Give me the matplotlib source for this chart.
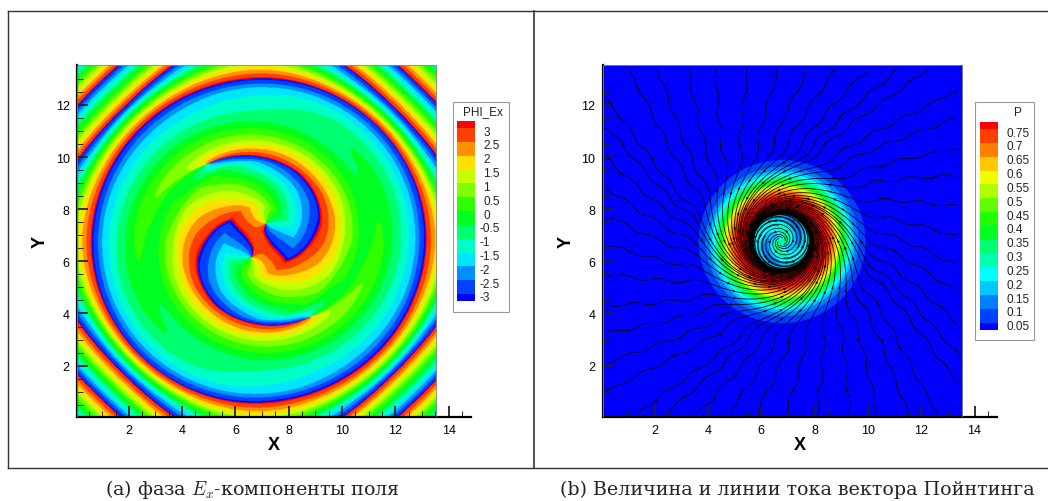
import numpy as np
import matplotlib
matplotlib.use('Agg')
import matplotlib.pyplot as plt
from matplotlib.colors import ListedColormap, BoundaryNorm
from matplotlib.patches import Rectangle

plt.rcParams['font.family'] = ['Liberation Sans', 'DejaVu Sans']
plt.rcParams['mathtext.fontset'] = 'cm'

# legend levels and colours
phi_levels = [-3, -2.5, -2, -1.5, -1, -0.5, 0, 0.5, 1, 1.5, 2, 2.5, 3]
phi_colors = ['#0000ff', '#0040ff', '#0090ff', '#00e5ff', '#00ffc8', '#00ff70', '#00ff20',
              '#30ff00', '#80ff00', '#c8ff00', '#ffe000', '#ff9000', '#ff4000', '#ff0000']
p_levels = [0.05, 0.1, 0.15, 0.2, 0.25, 0.3, 0.35, 0.4, 0.45, 0.5, 0.55, 0.6, 0.65, 0.7, 0.75]
p_colors = ['#0000ff', '#0040ff', '#0080ff', '#00c8ff', '#00ffff', '#00ffb0', '#00ff70', '#00ff20',
            '#20ff00', '#60ff00', '#b0ff00', '#f0ff00', '#ffc800', '#ff8000', '#ff4000', '#ff0000']
ticks = [2, 4, 6, 8, 10, 12, 14]
yticks = [2, 4, 6, 8, 10, 12]

# radial profiles read along lines through the centre
h_r = [0, 2.4, 2.6, 2.85, 3.05, 3.5, 3.85, 4.6, 5.1, 5.5, 5.85, 6.0, 6.15, 6.25, 6.67, 7.85, 9.25, 11.0]
h_phase = [3.1, 3.14, 2.9, 2.3, 1.8, 1.1, 0.5, -0.3, -0.8, -1.3, -1.9, -2.4, -2.9, -3.14, -4.55, -9.42, -15.7, -23.0]
g_r = [0, 0.7, 1.3, 1.9, 2.4, 3.0, 3.2, 3.35, 3.5, 4.0, 5.0, 6.0, 7.0, 10.0]
g_deg = [200, 230, 248, 192, 150, 84, 40, 15, -4, -110, -340, -500, -600, -800]
a_r = [0, 2.5, 3.0, 3.5, 4.0, 5.0, 5.8, 7.0, 10.0]
a_amp = [3.0, 3.0, 2.2, 1.0, 0.5, 0.3, 0.2, 0.1, 0.05]
b_r = [0, 1.8, 3.0, 10.0]
b_amp = [0.0, 0.0, 1.0, 1.0]

p_r = [0, 0.25, 0.6, 1.05, 1.2, 1.4, 1.71, 1.9, 2.09, 2.25, 2.52, 2.69, 2.9, 3.13, 3.3, 10.0]
p_val = [0.3, 0.25, 0.19, 0.19, 0.7, 0.8, 0.76, 0.68, 0.58, 0.42, 0.25, 0.16, 0.09, 0.05, 0.02, 0.02]
# angle of the flow against the inward radius, degrees
flow_r = [0, 0.5, 0.9, 1.1, 1.25, 1.6, 2.0, 2.5, 3.0, 3.3, 3.9, 4.5, 5.1, 5.7, 6.3, 6.9, 7.5, 8.1, 8.7, 9.5, 10.0]
flow_deg = [110, 105, 100, 90, 82, 74, 68, 62, 55, 48, -5, 48, -5, 45, -5, 40, -5, 30, 0, 15, 10]


def smooth(v, n=15):
    w = np.ones(n) / n
    return np.convolve(np.pad(v, n // 2, mode='edge'), w, mode='valid')


xs = np.linspace(0.04, 13.53, 720)
ys = np.linspace(0.03, 13.53, 720)
X, Y = np.meshgrid(xs, ys)

# left field
dx = X - 6.85
dy = Y - 6.8
z = dx + 1j * dy
r = np.abs(z)
th = np.angle(z)
stretch = 1 + 0.09 * np.sin(2 * th) ** 2 * np.clip((r - 6.2) / 0.9, 0, 1)
rm = r * stretch
z1 = 0.28 + 0.65j
vortex = (z ** 2 - z1 ** 2) / np.maximum(r ** 2, 0.3)
field = (np.interp(r, a_r, a_amp) * vortex * np.exp(1j * np.radians(np.interp(r, g_r, g_deg)))
         + np.interp(r, b_r, b_amp) * np.exp(1j * np.interp(rm, h_r, h_phase)))
phi = np.angle(field)

# right field
dx2 = X - 6.75
dy2 = Y - 6.76
r2 = np.hypot(dx2, dy2)
th2 = np.arctan2(dy2, dx2)
swirl = 0.06 * np.cos(2 * th2 - 6 * r2) * np.clip(1.1 - r2, 0, 0.2) / 0.2
P = np.interp(r2, p_r, p_val) + swirl

fine_r = np.linspace(0, 10, 1001)
fine_deg = smooth(np.interp(fine_r, flow_r, flow_deg), 31)
alpha = np.radians(np.interp(r2, fine_r, fine_deg))
er_x, er_y = dx2 / np.maximum(r2, 1e-6), dy2 / np.maximum(r2, 1e-6)
U = -np.cos(alpha) * er_x - np.sin(alpha) * er_y
V = -np.cos(alpha) * er_y + np.sin(alpha) * er_x

fig = plt.figure(figsize=(10.48, 5.02), dpi=100)


def make_axes(x_left):
    ax = fig.add_axes([x_left / 1048, 1 - 418 / 502, (14.83 - 0.04) * 26.65 / 1048, (418 - 66) / 502])
    ax.set_xlim(0.04, 14.83)
    ax.set_ylim(0.03, 13.53)
    ax.spines['top'].set_visible(False)
    ax.spines['right'].set_visible(False)
    ax.spines['left'].set_linewidth(1.6)
    ax.spines['bottom'].set_linewidth(1.6)
    ax.set_xticks(ticks)
    ax.set_yticks(yticks)
    ax.set_xticks(np.arange(0.5, 14.8, 0.5), minor=True)
    ax.set_yticks(np.arange(0.5, 13.5, 0.5), minor=True)
    ax.tick_params(which='major', direction='in', length=8, width=1.3, labelsize=9, pad=5, color='#222222')
    ax.tick_params(which='minor', direction='in', length=4, width=0.7, color='#222222')
    ax.set_xlabel('X', fontweight='bold', fontsize=13, labelpad=0)
    ax.set_ylabel('Y', fontweight='bold', fontsize=13, labelpad=5)
    ax.add_patch(Rectangle((0.04, 0.03), 13.49, 13.5, fill=False, ec='#888888', lw=0.6, zorder=3))
    return ax


ax1 = make_axes(76.6)
cmap1 = ListedColormap(phi_colors[1:-1])
cmap1.set_under(phi_colors[0])
cmap1.set_over(phi_colors[-1])
ax1.imshow(phi, origin='lower', extent=(0.04, 13.53, 0.03, 13.53), aspect='auto',
           cmap=cmap1, norm=BoundaryNorm(phi_levels, 12), interpolation_stage='rgba')
ax1.set_xlim(0.04, 14.83)
ax1.set_ylim(0.03, 13.53)

ax2 = make_axes(602.5)
cmap2 = ListedColormap(p_colors[1:-1])
cmap2.set_under(p_colors[0])
cmap2.set_over(p_colors[-1])
ax2.imshow(P, origin='lower', extent=(0.04, 13.53, 0.03, 13.53), aspect='auto',
           cmap=cmap2, norm=BoundaryNorm(p_levels, 14), interpolation_stage='rgba')

edge = np.arange(0.9, 13.5, 1.15)
seeds = []
for e in edge:
    seeds += [[e, 13.5], [e + 0.3, 0.06], [0.06, e], [13.5, e + 0.3]]
for rad in [0.15, 0.6]:
    for a in np.arange(0, 360, 60):
        seeds.append([6.75 + rad * np.cos(np.radians(a + 40 * rad)), 6.76 + rad * np.sin(np.radians(a + 40 * rad))])
seeds = np.array(seeds)

st = ax2.streamplot(X, Y, U, V, start_points=seeds, color='black', linewidth=0.55, arrowsize=0.01,
                    density=3, maxlength=1.7, integration_direction='forward', broken_streamlines=False)

# small arrow heads along every line, about one per 2 units of length
ax_, ay_, au_, av_ = [], [], [], []
for line in st.lines.get_segments():
    step = np.diff(line, axis=0)
    ds = np.hypot(step[:, 0], step[:, 1])
    s = np.cumsum(ds)
    for target in np.arange(1.0, min(s[-1], 14.0), 2.0):
        k = np.searchsorted(s, target)
        ax_.append(line[k, 0])
        ay_.append(line[k, 1])
        au_.append(step[k, 0] / max(ds[k], 1e-9))
        av_.append(step[k, 1] / max(ds[k], 1e-9))
ax2.quiver(ax_, ay_, au_, av_, angles='xy', pivot='mid', scale=120, width=0.0012,
           headwidth=6, headlength=7, headaxislength=6, color='black', zorder=4)
ax2.set_xlim(0.04, 14.83)
ax2.set_ylim(0.03, 13.53)

# overlay in pixel units for frames, legends and captions
ov = fig.add_axes([0, 0, 1, 1], facecolor='none')
ov.set_xlim(0, 1048)
ov.set_ylim(502, 0)
ov.axis('off')
ov.plot([8, 1048], [12, 12], color='#333333', lw=1)
ov.plot([8, 1048], [469, 469], color='#333333', lw=1)
ov.plot([8, 8], [12, 469], color='#333333', lw=1)
ov.plot([534, 534], [12, 469], color='#333333', lw=1.2)


def legend(left, top, width, height, title, title_x, colors, labels, sw_x, sw_w, txt_x, y0, step):
    ov.add_patch(Rectangle((left, top), width, height, fc='white', ec='#999999', lw=0.8))
    ov.text(title_x, top + 10, title, fontsize=8.5, ha='center', va='center', color='#222222')
    y = y0
    for i, c in enumerate(colors):
        h = step / 2 if i in (0, len(colors) - 1) else step
        ov.add_patch(Rectangle((sw_x, y - h), sw_w, h, fc=c, ec='none'))
        y -= h
    for i, lab in enumerate(labels):
        x_txt = txt_x - 3.5 if lab.startswith('-') else txt_x
        ov.text(x_txt, y0 - step / 2 - i * step + 3.4, lab, fontsize=8.5, ha='left', va='center', color='#222222')


legend(452.5, 102.5, 56, 210.5, 'PHI_Ex', 483, phi_colors, ['%g' % v for v in phi_levels],
       457, 17.5, 483.5, 302, 13.83)
legend(975, 102.5, 59, 238, 'P', 1018, p_colors, ['%g' % v for v in p_levels],
       980, 17.5, 1006.5, 330.7, 13.83)

cap = {'family': ['DejaVu Serif'], 'fontsize': 13.7, 'ha': 'center', 'va': 'center', 'color': '#222222'}
ov.text(253, 490, '(a) фаза $E_x$-компоненты поля', **cap)
ov.text(797, 490, '(b) Величина и линии тока вектора Пойнтинга', **cap)

fig.savefig('out.png', dpi=100)
